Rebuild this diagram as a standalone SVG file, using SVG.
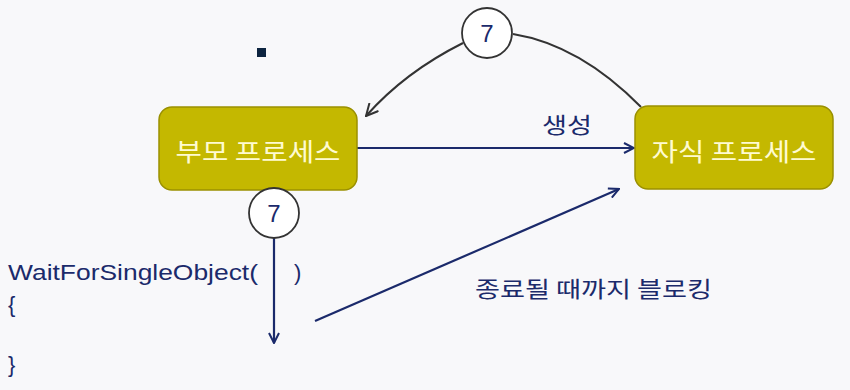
<svg xmlns="http://www.w3.org/2000/svg" width="850" height="390" viewBox="0 0 850 390">
<style>
.box{fill:#C4B800;stroke:#9A9000;stroke-width:1.5}
.bt{font-family:"Noto Sans CJK KR","Noto Sans",sans-serif;font-size:25px;fill:#FFFBD0;text-anchor:middle}
.lbl{font-family:"Noto Sans CJK KR","Noto Sans",sans-serif;font-size:22px;fill:#1B2A6B}
.code{font-family:"Liberation Sans","Noto Sans",sans-serif;font-size:22px;fill:#1B2A6B}
.circ{fill:#FFFFFF;stroke:#333333;stroke-width:1.8}
.num{font-family:"Liberation Sans",sans-serif;font-size:24px;fill:#1B2A6B;text-anchor:middle}
.blue{stroke:#1B2A6B;stroke-width:2.2;fill:none}
.gray{stroke:#333333;stroke-width:2;fill:none}
</style>
<defs>
<marker id="ab" viewBox="0 0 12 12" refX="11" refY="6" markerWidth="12" markerHeight="12" markerUnits="userSpaceOnUse" orient="auto">
<path d="M1,1 L11,6 L1,11" fill="none" stroke="#1B2A6B" stroke-width="2"/>
</marker>
<marker id="ag" viewBox="0 0 14 14" refX="13" refY="7" markerWidth="14" markerHeight="14" markerUnits="userSpaceOnUse" orient="auto">
<path d="M1,1 L13,7 L1,13" fill="none" stroke="#333333" stroke-width="2"/>
</marker>
</defs>
<rect width="850" height="390" fill="#F8F8FA"/>
<rect x="257" y="48" width="9" height="9" fill="#0D2440"/>
<g id="connectors">
<path class="gray" d="M463,43 Q405,72 366,116" marker-end="url(#ag)"/>
<path class="gray" d="M513,34 Q580,45 641,107"/>
<line class="blue" x1="357" y1="148" x2="634" y2="148" marker-end="url(#ab)"/>
<line class="blue" x1="274" y1="238" x2="274" y2="343" marker-end="url(#ab)"/>
<line class="blue" x1="315" y1="321" x2="619" y2="189" marker-end="url(#ab)"/>
</g>
<g id="parent">
<rect class="box" x="159" y="107" width="198" height="83" rx="13"/>
<text class="bt" x="258" y="161" textLength="165" lengthAdjust="spacingAndGlyphs">부모 프로세스</text>
</g>
<g id="child">
<rect class="box" x="635" y="106" width="198" height="83" rx="13"/>
<text class="bt" x="734" y="161" textLength="165" lengthAdjust="spacingAndGlyphs">자식 프로세스</text>
</g>
<g id="circle-top">
<circle class="circ" cx="487" cy="33" r="25"/>
<text class="num" x="487" y="42">7</text>
</g>
<g id="circle-bottom">
<circle class="circ" cx="274" cy="213" r="25"/>
<text class="num" x="274" y="222">7</text>
</g>
<g id="labels">
<text class="lbl" x="542" y="133" textLength="50" lengthAdjust="spacingAndGlyphs">생성</text>
<text class="lbl" x="475" y="297" textLength="237" lengthAdjust="spacingAndGlyphs">종료될 때까지 블로킹</text>
<text class="code" x="8" y="280" textLength="250" lengthAdjust="spacingAndGlyphs">WaitForSingleObject(</text>
<text class="code" x="294" y="280">)</text>
<text class="code" x="8" y="312">{</text>
<text class="code" x="8" y="372">}</text>
</g>
</svg>
